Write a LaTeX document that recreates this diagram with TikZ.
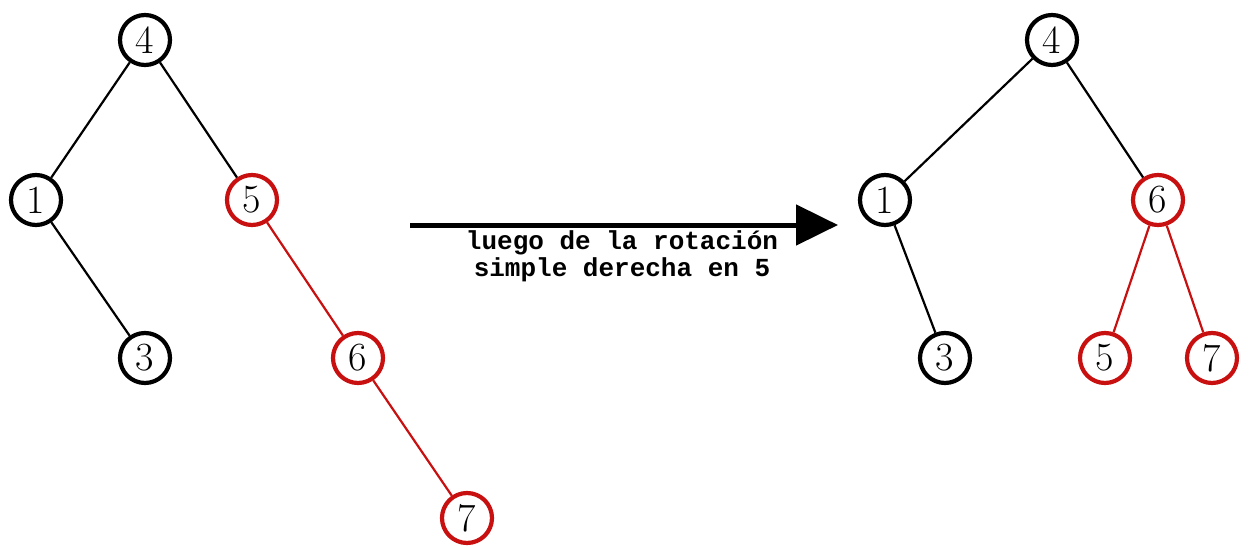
\documentclass[tikz,border=0pt]{standalone}
\usepackage{fontspec}
\setmonofont{Liberation Mono}
\usetikzlibrary{arrows.meta}
\definecolor{treered}{RGB}{200,16,16}
\tikzset{
  bnode/.style={circle, draw=black, line width=4.2pt, minimum size=50pt, inner sep=0pt, fill=white, font=\fontsize{40}{40}\selectfont},
  rnode/.style={bnode, draw=treered},
  bedge/.style={draw=black, line width=2.2pt},
  redge/.style={draw=treered, line width=2.2pt},
}
\begin{document}
\begin{tikzpicture}[x=1pt,y=-1pt]
\useasboundingbox (0,0) rectangle (1254,546);
% tree before the rotation
\node[bnode] (l4) at (145,40) {4};
\node[bnode] (l1) at (36,200) {1};
\node[rnode] (l5) at (252,200) {5};
\node[bnode] (l3) at (145,358) {3};
\node[rnode] (l6) at (358,358) {6};
\node[rnode] (l7) at (467,518) {7};
\draw[bedge] (l4) -- (l1);
\draw[bedge] (l4) -- (l5);
\draw[bedge] (l1) -- (l3);
\draw[redge] (l5) -- (l6);
\draw[redge] (l6) -- (l7);
% arrow with caption
\coordinate (a0) at (410,225);
\coordinate (a1) at (838,225);
\draw[line width=5pt, -{Triangle[length=42pt,width=40pt]}] (a0) -- (a1);
\node[font=\ttfamily\bfseries\fontsize{26}{27}\selectfont, align=center, anchor=north, inner sep=0pt] (cap) at (622,230) {luego de la rotación\\simple derecha en 5};
% tree after the rotation
\node[bnode] (r4) at (1052,40) {4};
\node[bnode] (r1) at (885,200) {1};
\node[rnode] (r6) at (1158,200) {6};
\node[bnode] (r3) at (945,358) {3};
\node[rnode] (r5) at (1105,358) {5};
\node[rnode] (r7) at (1212,358) {7};
\draw[bedge] (r4) -- (r1);
\draw[bedge] (r4) -- (r6);
\draw[bedge] (r1) -- (r3);
\draw[redge] (r6) -- (r5);
\draw[redge] (r6) -- (r7);
\end{tikzpicture}
\end{document}
